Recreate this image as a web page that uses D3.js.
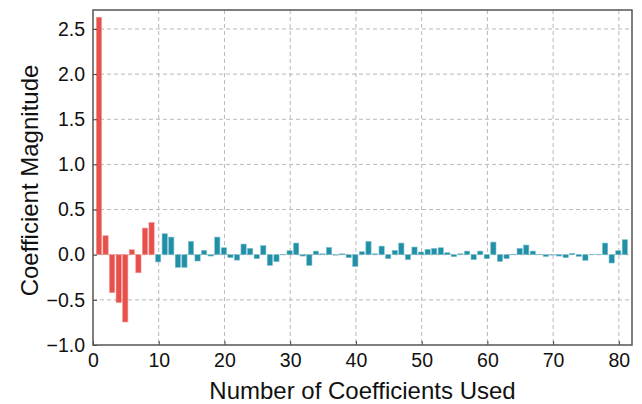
<!DOCTYPE html>
<html>
<head>
<meta charset="utf-8">
<script src="https://cdn.jsdelivr.net/npm/d3@7"></script>
<style>
  html, body { margin: 0; padding: 0; background: #fff; }
  svg { display: block; font-family: "Liberation Sans", Arial, sans-serif; }
</style>
</head>
<body>
<svg id="chart" width="642" height="404"></svg>
<script>
// Coefficient values, index 1..81
const coefficients = [
  2.63, 0.21, -0.42, -0.53, -0.745, 0.055, -0.20, 0.295, 0.357,
  -0.08, 0.232, 0.195, -0.14, -0.14, 0.147, -0.07, 0.048, -0.015, 0.195,
  0.077, -0.033, -0.06, 0.118, 0.07, -0.044, 0.10, -0.118, -0.077, 0.005,
  0.044, 0.129, -0.015, -0.118, 0.04, 0.01, 0.08, -0.005, 0.01, -0.033,
  -0.13, 0.033, 0.147, 0.01, 0.095, -0.044, 0.048, 0.129, -0.055, 0.085,
  0.03, 0.059, 0.07, 0.077, 0.022, -0.022, 0.01, 0.04, -0.055, 0.04,
  -0.044, 0.14, -0.074, -0.044, 0.004, 0.07, 0.107, 0.04, 0.004, -0.02,
  -0.004, -0.015, -0.033, 0.015, -0.018, -0.063, 0.003, 0.003, 0.129, -0.092,
  0.044, 0.166
];
const highlightCount = 9;           // first coefficients drawn in red
const xTicks = [0, 10, 20, 30, 40, 50, 60, 70, 80];
const yTicks = [-1.0, -0.5, 0.0, 0.5, 1.0, 1.5, 2.0, 2.5];
const xLabel = "Number of Coefficients Used";
const yLabel = "Coefficient Magnitude";

const svg = d3.select("#chart");
const margin = { left: 93, right: 10, top: 10, bottom: 59 };
const W = 642, H = 404;
const iw = W - margin.left - margin.right;
const ih = H - margin.top - margin.bottom;

const x = d3.scaleLinear().domain([0, 82]).range([0, iw]);
const y = d3.scaleLinear().domain([-1.0, 2.71]).range([ih, 0]);

const g = svg.append("g").attr("transform", `translate(${margin.left},${margin.top})`);

// grid
g.append("g").selectAll("line").data(xTicks.filter(t => t > 0)).join("line")
  .attr("x1", d => x(d)).attr("x2", d => x(d))
  .attr("y1", 0).attr("y2", ih)
  .attr("stroke", "#b8b8b8").attr("stroke-width", 1).attr("stroke-dasharray", "4,3");
g.append("g").selectAll("line").data(yTicks.filter(t => t > -1)).join("line")
  .attr("x1", 0).attr("x2", iw)
  .attr("y1", d => y(d)).attr("y2", d => y(d))
  .attr("stroke", "#b8b8b8").attr("stroke-width", 1).attr("stroke-dasharray", "4,3");

// bars
const data = coefficients.map((v, i) => ({ n: i + 1, v }));
const bw = x(0.8) - x(0);
g.append("g").selectAll("rect").data(data).join("rect")
  .attr("x", d => x(d.n) - bw / 2 - 0.6)
  .attr("width", bw)
  .attr("y", d => y(Math.max(0, d.v)))
  .attr("height", d => Math.abs(y(d.v) - y(0)))
  .attr("fill", d => d.n <= highlightCount ? "#e8504b" : "#2190a6")
  .attr("stroke", d => d.n <= highlightCount ? "#f29592" : "#7cc0cf")
  .attr("stroke-width", 0.6);

// axes with inward ticks
const xAxis = d3.axisBottom(x).tickValues(xTicks).tickFormat(d3.format("d"))
  .tickSizeInner(-4).tickSizeOuter(0).tickPadding(8);
const yAxis = d3.axisLeft(y).tickValues(yTicks).tickFormat(d3.format(".1f"))
  .tickSizeInner(-4).tickSizeOuter(0).tickPadding(8);

const gx = g.append("g").attr("transform", `translate(0,${ih})`).call(xAxis);
const gy = g.append("g").call(yAxis);
[gx, gy].forEach(a => {
  a.select(".domain").remove();
  a.selectAll(".tick line").attr("stroke", "#444");
  a.selectAll(".tick text").attr("font-size", 19.5).attr("fill", "#111")
    .attr("font-family", "Liberation Sans, Arial, sans-serif");
});
gy.selectAll(".tick text").text(d => d3.format(".1f")(d).replace("-", "\u2212"));

// frame
g.append("rect").attr("x", 0).attr("y", 0).attr("width", iw).attr("height", ih)
  .attr("fill", "none").attr("stroke", "#555").attr("stroke-width", 1.5);

// axis titles
svg.append("text")
  .attr("x", margin.left + iw / 2).attr("y", 399)
  .attr("text-anchor", "middle").attr("font-size", 24).attr("fill", "#111")
  .text(xLabel);
svg.append("text")
  .attr("transform", `translate(38,${margin.top + ih / 2 + 3}) rotate(-90)`)
  .attr("text-anchor", "middle").attr("font-size", 24).attr("fill", "#111")
  .text(yLabel);
</script>
</body>
</html>
